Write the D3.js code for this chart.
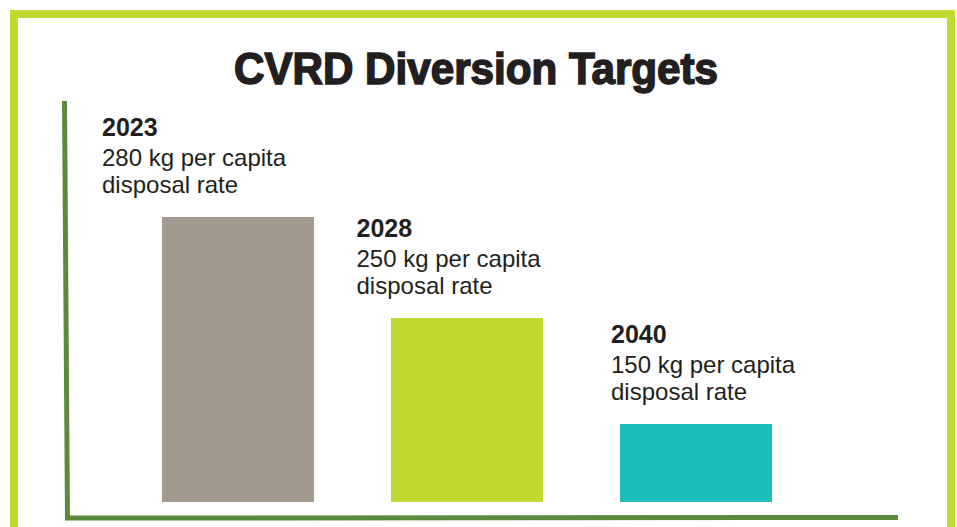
<!DOCTYPE html>
<html>
<head>
<meta charset="utf-8">
<script src="https://cdn.jsdelivr.net/npm/d3@7"></script>
<style>
  html, body { margin: 0; padding: 0; background: #fff; }
  svg { display: block; }
</style>
</head>
<body>
<div id="chart"></div>
<script>
// data
const years = ['2023', '2028', '2040'];
const disposalKg = [280, 250, 150];
const barColors = ['#A39A8D', '#C1D82F', '#1DBDB9'];
const chartTitle = 'CVRD Diversion Targets';

const width = 957, height = 527;
const lime = '#C2D92F';
const axisGreen = '#5B8A3C';
const ink = '#231F20';

const svg = d3.select('#chart').append('svg')
  .attr('width', width)
  .attr('height', height);

// frame, open at the bottom edge of the page
svg.append('rect')
  .attr('x', 14).attr('y', 14)
  .attr('width', 937).attr('height', height + 20)
  .attr('fill', 'none')
  .attr('stroke', lime)
  .attr('stroke-width', 8);

// title
svg.append('text')
  .attr('x', 476).attr('y', 84)
  .attr('text-anchor', 'middle')
  .attr('font-family', 'Liberation Sans, Arial, sans-serif')
  .attr('font-weight', 'bold')
  .attr('font-size', 44)
  .attr('fill', ink)
  .attr('stroke', ink)
  .attr('stroke-width', 1.6)
  .attr('textLength', 484)
  .attr('lengthAdjust', 'spacingAndGlyphs')
  .text(chartTitle);

// scales
const baseY = 502;
const x = d3.scaleBand()
  .domain(years)
  .range([162, 772])
  .paddingInner(0.336)
  .paddingOuter(0);

// the infographic does not draw bars proportionally, so the height scale is piecewise
const h = d3.scaleLinear()
  .domain([0, 150, 250, 280])
  .range([0, 78, 184, 285]);

const labelX = d3.scalePoint()
  .domain(years)
  .range([102, 611]);

// axis lines (hand drawn look, slightly tilted left edge)
svg.append('line')
  .attr('x1', 64.5).attr('y1', 101)
  .attr('x2', 67.5).attr('y2', 520)
  .attr('stroke', axisGreen)
  .attr('stroke-width', 5);
svg.append('line')
  .attr('x1', 65).attr('y1', 518)
  .attr('x2', 898).attr('y2', 517.5)
  .attr('stroke', axisGreen)
  .attr('stroke-width', 5);

const rows = years.map((yr, i) => ({ year: yr, kg: disposalKg[i], color: barColors[i] }));

// bars
svg.selectAll('rect.bar')
  .data(rows)
  .join('rect')
  .classed('bar', true)
  .attr('x', d => x(d.year))
  .attr('y', d => baseY - h(d.kg))
  .attr('width', x.bandwidth())
  .attr('height', d => h(d.kg))
  .attr('fill', d => d.color);

// labels above each bar
const lbl = svg.selectAll('g.lbl')
  .data(rows)
  .join('g')
  .classed('lbl', true)
  .attr('transform', d => `translate(${labelX(d.year)},${baseY - h(d.kg) - 24})`)
  .attr('font-family', 'Liberation Sans, Arial, sans-serif')
  .attr('fill', ink);

lbl.append('text')
  .attr('y', -57)
  .attr('font-size', 25)
  .attr('font-weight', 'bold')
  .text(d => d.year);
lbl.append('text')
  .attr('y', -27)
  .attr('font-size', 24)
  .text(d => `${d.kg} kg per capita`);
lbl.append('text')
  .attr('y', 0)
  .attr('font-size', 24)
  .text('disposal rate');
</script>
</body>
</html>
